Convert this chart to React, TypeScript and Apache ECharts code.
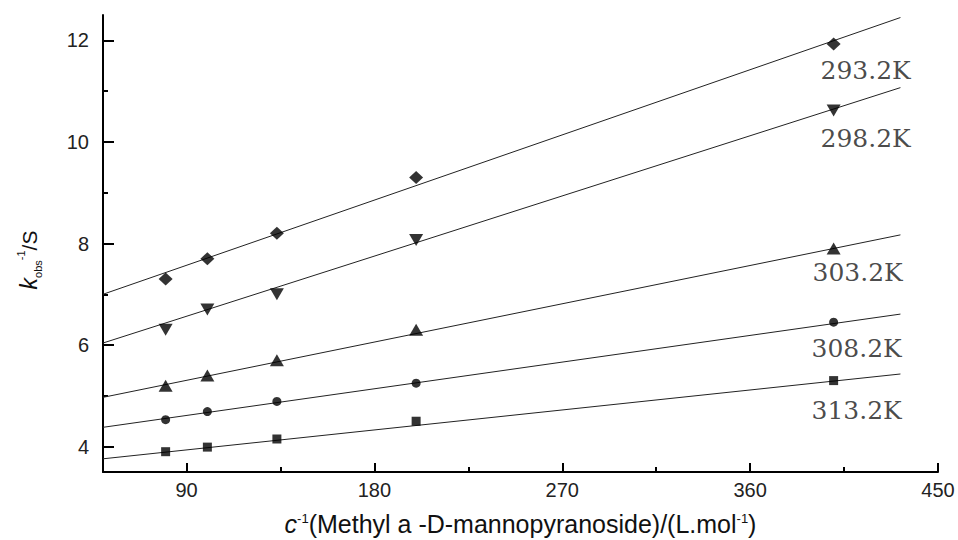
import React, { useEffect, useRef } from "react";
import * as echarts from "echarts";

// c^-1 values (L/mol) shared by all series
const xValues = [80, 100, 133.3, 200, 400];
const temps = ["293.2K", "298.2K", "303.2K", "308.2K", "313.2K"];
const y293 = [7.3, 7.7, 8.2, 9.3, 11.93];
const y298 = [6.3, 6.7, 7.0, 8.07, 10.62];
const y303 = [5.2, 5.4, 5.7, 6.3, 7.9];
const y308 = [4.53, 4.69, 4.89, 5.25, 6.45];
const y313 = [3.9, 3.99, 4.15, 4.5, 5.3];
// fitted lines: value at start x and end x
const fitX = [50, 432];
const fitStart = [7.0, 6.04, 4.97, 4.38, 3.76];
const fitEnd = [12.45, 11.07, 8.17, 6.61, 5.43];
// ticks
const xMajorTicks = [90, 180, 270, 360, 450];
const xMinorTicks = [135, 225, 315, 405];
const yMajorTicks = [4, 6, 8, 10, 12];
const yMinorTicks = [5, 7, 9, 11];

const seriesY = [y293, y298, y303, y308, y313];
const symbols = ["diamond", "triangle", "triangle", "circle", "rect"];
const symbolRotates = [0, 180, 0, 0, 0];
const symbolSizes: any[] = [[14, 13], [14, 12], [14, 12], 9, 9];
const labelOffsets = [[32, 27], [32, 28], [24, 24], [23, 26], [23, 30]];

export default function App() {
  const ref = useRef<HTMLDivElement>(null);
  useEffect(() => {
    if (!ref.current) return;
    const chart = echarts.init(ref.current, null, { renderer: "svg" });
    const sans = "Liberation Sans";
    const axisBase = {
      type: "value",
      splitLine: { show: false },
    };
    const series: any[] = [];
    seriesY.forEach((ys, i) => {
      series.push({
        type: "line",
        name: temps[i] + " fit",
        xAxisIndex: 0,
        yAxisIndex: 0,
        data: [
          [fitX[0], fitStart[i]],
          [fitX[1], fitEnd[i]],
        ],
        showSymbol: false,
        symbol: "none",
        silent: true,
        lineStyle: { color: "#222", width: 1 },
        z: 2,
      });
      series.push({
        type: "scatter",
        name: temps[i],
        xAxisIndex: 0,
        yAxisIndex: 0,
        symbol: symbols[i],
        symbolRotate: symbolRotates[i],
        symbolSize: symbolSizes[i],
        itemStyle: { color: "#000" },
        z: 3,
        data: ys.map((y, j) => {
          const item: any = { value: [xValues[j], y] };
          if (j === ys.length - 1) {
            item.label = {
              show: true,
              position: "inside",
              offset: labelOffsets[i],
              formatter: temps[i],
              color: "#1a1a1a",
              fontFamily: "DejaVu Serif",
              fontSize: 25,
            };
          }
          return item;
        }),
      });
    });

    chart.setOption({
      animation: false,
      backgroundColor: "#fff",
      grid: { left: 103, right: 20, top: 15, bottom: 68, containLabel: false, outerBoundsMode: "none" },
      xAxis: [
        {
          ...axisBase,
          min: 50,
          max: 450,
          position: "bottom",
          axisLine: { show: true, lineStyle: { color: "#000", width: 2 } },
          axisTick: { show: true, inside: true, length: 9, customValues: xMajorTicks, lineStyle: { color: "#000", width: 2 } },
          axisLabel: { show: true, customValues: xMajorTicks, margin: 8, color: "#222", fontFamily: sans, fontSize: 20 },
          name: "{it|c}{sup|-1}{n|(Methyl a -D-mannopyranoside)/(L.mol}{sup|-1}{n|)}",
          nameLocation: "middle",
          nameGap: 40,
          nameTextStyle: {
            color: "#111",
            fontFamily: sans,
            fontSize: 25,
            lineHeight: 24,
            rich: {
              it: { fontStyle: "italic", fontSize: 25, fontFamily: sans, color: "#111", lineHeight: 24 },
              sup: { fontSize: 13, fontFamily: sans, color: "#111", verticalAlign: "top", lineHeight: 24 },
              n: { fontSize: 25, fontFamily: sans, color: "#111", lineHeight: 24 },
            },
          },
        },
        {
          ...axisBase,
          min: 50,
          max: 450,
          position: "bottom",
          axisLine: { show: false },
          axisTick: { show: true, inside: true, length: 5, customValues: xMinorTicks, lineStyle: { color: "#000", width: 2 } },
          axisLabel: { show: false },
        },
      ],
      yAxis: [
        {
          ...axisBase,
          min: 3.5,
          max: 12.5,
          position: "left",
          axisLine: { show: true, lineStyle: { color: "#000", width: 2 } },
          axisTick: { show: true, inside: true, length: 11, customValues: yMajorTicks, lineStyle: { color: "#000", width: 2 } },
          axisLabel: { show: true, customValues: yMajorTicks, margin: 14, color: "#222", fontFamily: sans, fontSize: 20 },
        },
        {
          ...axisBase,
          min: 3.5,
          max: 12.5,
          position: "left",
          axisLine: { show: false },
          axisTick: { show: true, inside: true, length: 5, customValues: yMinorTicks, lineStyle: { color: "#000", width: 2 } },
          axisLabel: { show: false },
        },
      ],
      graphic: [
        {
          type: "text",
          x: 29,
          y: 260,
          rotation: Math.PI / 2,
          style: {
            text: "{it|k}{sub|obs}{sup|-1}{n|/S}",
            align: "center",
            verticalAlign: "middle",
            fill: "#111",
            font: "21px Liberation Sans",
            rich: {
              it: { fontStyle: "italic", fontSize: 23, fontFamily: sans, fill: "#111", lineHeight: 28 },
              sub: { fontSize: 11, fontFamily: sans, fill: "#111", verticalAlign: "bottom", lineHeight: 28 },
              sup: { fontSize: 11, fontFamily: sans, fill: "#111", verticalAlign: "top", lineHeight: 28 },
              n: { fontSize: 21, fontFamily: sans, fill: "#111", lineHeight: 28 },
            },
          },
        },
      ],
      series,
    });
    return () => chart.dispose();
  }, []);
  return (
    <div
      ref={ref}
      style={{ position: "fixed", left: 0, top: 0, width: 958, height: 540, background: "#fff" }}
    />
  );
}
